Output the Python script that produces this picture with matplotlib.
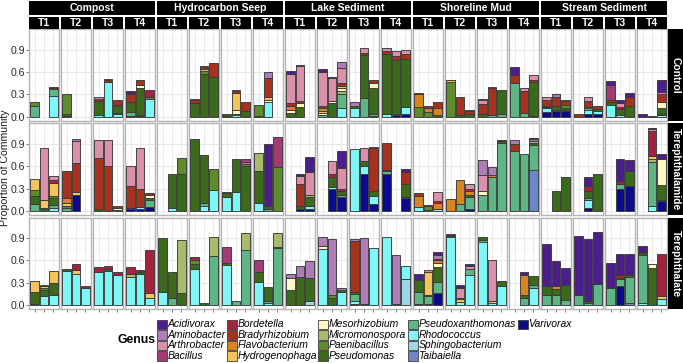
import matplotlib
matplotlib.use("Agg")
import matplotlib.pyplot as plt
from matplotlib.patches import Rectangle

plt.rcParams['font.family'] = ['Liberation Sans', 'DejaVu Sans']

# genus names, short codes and fill colours (legend order)
genera = ['Acidivorax', 'Aminobacter', 'Arthrobacter', 'Bacillus',
          'Bordetella', 'Bradyrhizobium', 'Flavobacterium', 'Hydrogenophaga',
          'Mesorhizobium', 'Micromonospora', 'Paenibacillus', 'Pseudomonas',
          'Pseudoxanthomonas', 'Rhodococcus', 'Sphingobacterium', 'Taibaiella',
          'Varivorax']
codes = ['Ac', 'Am', 'Ar', 'Ba', 'Bo', 'Br', 'Fl', 'Hy', 'Me', 'Mi', 'Pa',
         'Ps', 'Px', 'Rh', 'Sp', 'Ta', 'Va']
colors = ['#4B1D8F', '#B07CB8', '#DC8FAA', '#A43B72', '#A3233F', '#A4321F',
          '#DA8420', '#F4C35A', '#FFF7C6', '#A8BA6C', '#5E8B2C', '#3B6B1A',
          '#5FB685', '#80F7F7', '#9FD6E6', '#6E86C6', '#0B0B8B']

sites = ['Compost', 'Hydrocarbon Seep', 'Lake Sediment', 'Shoreline Mud', 'Stream Sediment']
times = ['T1', 'T2', 'T3', 'T4']
treatments = ['Control', 'Terephthalamide', 'Terephthalate']

# each panel = 3 replicate bars, each bar = {genus code: proportion}
control = [
    # Compost
    [{'Px': .15, 'Pa': .05}, {}, {'Rh': .28, 'Px': .09, 'Fl': .01, 'Br': .02}],
    [{'Px': .01, 'Ps': .02, 'Pa': .27}, {}, {}],
    [{'Rh': .02, 'Ps': .19, 'Br': .03, 'Ar': .02}, {'Rh': .46, 'Ps': .01, 'Br': .03, 'Ar': .01},
     {'Px': .02, 'Rh': .03, 'Ps': .09, 'Me': .02, 'Br': .07}],
    [{'Va': .01, 'Px': .05, 'Ps': .14, 'Br': .1, 'Ar': .02, 'Ac': .03},
     {'Va': .01, 'Rh': .01, 'Ps': .36, 'Me': .04, 'Br': .07}, {'Rh': .24, 'Pa': .02, 'Bo': .1}],
    # Hydrocarbon Seep
    [{}, {}, {}],
    [{'Ps': .19, 'Br': .03, 'Ar': .02}, {'Ps': .58, 'Pa': .03, 'Hy': .03, 'Br': .03, 'Ar': .01},
     {'Ps': .53, 'Br': .19}],
    [{'Rh': .01, 'Ps': .03}, {'Rh': .02, 'Px': .02, 'Me': .05, 'Hy': .23, 'Br': .03, 'Ar': .01},
     {'Ps': .07, 'Br': .13}],
    [{'Ps': .01, 'Pa': .15}, {'Rh': .2, 'Me': .02, 'Hy': .04, 'Br': .26, 'Am': .08}, {}],
    # Lake Sediment
    [{'Ps': .05, 'Me': .04, 'Fl': .05, 'Br': .04, 'Ar': .4, 'Ac': .04},
     {'Ps': .13, 'Me': .05, 'Br': .03, 'Ar': .47, 'Ac': .02}, {}],
    [{'Px': .02, 'Me': .03, 'Hy': .03, 'Fl': .04, 'Br': .03, 'Ar': .45, 'Ac': .04},
     {'Ps': .18, 'Me': .03, 'Ar': .31, 'Ac': .01},
     {'Rh': .11, 'Px': .19, 'Mi': .05, 'Me': .03, 'Hy': .03, 'Br': .04, 'Ar': .21, 'Am': .07}],
    [{'Rh': .12, 'Ps': .02, 'Am': .06}, {'Px': .25, 'Ps': .58, 'Br': .03, 'Ar': .06},
     {'Rh': .01, 'Px': .02, 'Ps': .36, 'Me': .06, 'Br': .05}],
    [{'Rh': .04, 'Ps': .8, 'Br': .05, 'Ar': .03}, {'Va': .02, 'Rh': .01, 'Ps': .73, 'Br': .06, 'Ar': .06},
     {'Va': .03, 'Rh': .1, 'Ps': .65, 'Br': .06, 'Ar': .06}],
    # Shoreline Mud
    [{'Pa': .13, 'Fl': .17, 'Br': .02}, {'Pa': .06, 'Fl': .06, 'Br': .02}, {'Ps': .02, 'Fl': .1, 'Br': .08}],
    [{'Pa': .47, 'Hy': .02, 'Br': .01}, {'Ps': .02, 'Br': .24}, {'Ps': .03, 'Br': .04, 'Ar': .02}],
    [{'Ps': .03, 'Br': .14, 'Ar': .05, 'Am': .02}, {'Px': .02, 'Br': .36, 'Ar': .02}, {'Px': .03, 'Ps': .33}],
    [{'Px': .45, 'Br': .11, 'Ac': .11}, {'Px': .05, 'Br': .3, 'Ar': .03},
     {'Px': .01, 'Ps': .46, 'Br': .03, 'Ar': .06}],
    # Stream Sediment
    [{'Va': .06, 'Rh': .05, 'Px': .02, 'Ps': .01, 'Br': .09, 'Ar': .03},
     {'Va': .07, 'Rh': .02, 'Ps': .06, 'Br': .12, 'Am': .03, 'Ac': .01},
     {'Va': .07, 'Px': .02, 'Ps': .02, 'Pa': .05, 'Br': .05, 'Ar': .01}],
    [{'Br': .03}, {'Va': .04, 'Rh': .05, 'Px': .02, 'Me': .02, 'Br': .08, 'Ar': .05},
     {'Va': .04, 'Rh': .04, 'Ps': .02, 'Br': .04}],
    [{'Rh': .16, 'Ps': .04, 'Br': .02, 'Ba': .21, 'Ac': .05},
     {'Rh': .02, 'Ps': .08, 'Bo': .03, 'Ar': .05, 'Ac': .05}, {'Ps': .14, 'Br': .13, 'Ac': .05}],
    [{'Ac': .03}, {'Ps': .01}, {'Rh': .02, 'Px': .02, 'Ps': .08, 'Me': .08, 'Br': .1, 'Ar': .03, 'Ac': .17}],
]

terephthalamide = [
    # Compost
    [{'Px': .09, 'Ps': .11, 'Pa': .08, 'Hy': .15}, {'Ps': .02, 'Me': .02, 'Hy': .1, 'Ar': .71},
     {'Rh': .04, 'Px': .04, 'Ps': .09, 'Pa': .03, 'Hy': .18, 'Bo': .03, 'Ar': .06}],
    [{'Px': .04, 'Pa': .03, 'Hy': .04, 'Fl': .06, 'Br': .37},
     {'Va': .21, 'Hy': .04, 'Br': .39, 'Ar': .3, 'Am': .03}, {}],
    [{'Ps': .02, 'Br': .69, 'Ar': .25}, {'Br': .61, 'Ar': .34}, {'Ps': .01, 'Me': .03, 'Br': .02}],
    [{'Va': .03, 'Ps': .01, 'Br': .29, 'Ar': .27}, {'Va': .03, 'Rh': .02, 'Br': .25, 'Ar': .55},
     {'Va': .05, 'Px': .1, 'Ps': .02, 'Me': .04, 'Br': .03}],
    # Hydrocarbon Seep
    [{}, {'Rh': .04, 'Ps': .46}, {'Ps': .5, 'Pa': .21}],
    [{'Ps': .97}, {'Rh': .07, 'Px': .03, 'Ps': .65}, {'Rh': .28, 'Pa': .29}],
    [{'Rh': .19, 'Ps': .05, 'Pa': .02}, {'Rh': .25, 'Ps': .45}, {'Ps': .61, 'Pa': .02, 'Fl': .03, 'Ba': .04}],
    [{'Rh': .1, 'Ps': .44, 'Mi': .24}, {'Px': .03, 'Ps': .03, 'Ac': .84}, {'Pa': .59, 'Ba': .41}],
    # Lake Sediment
    [{}, {'Va': .03, 'Ps': .04, 'Br': .29, 'Ar': .11, 'Ac': .02},
     {'Va': .03, 'Rh': .03, 'Ps': .12, 'Mi': .03, 'Ar': .31, 'Ac': .21}],
    [{}, {'Va': .29, 'Rh': .03, 'Ps': .14, 'Bo': .04, 'Ar': .17},
     {'Va': .18, 'Px': .04, 'Ps': .05, 'Bo': .03, 'Ar': .28, 'Ac': .22}],
    [{'Rh': .83}, {'Va': .5, 'Rh': .1, 'Ps': .07, 'Ar': .17},
     {'Va': .09, 'Rh': .11, 'Ps': .07, 'Br': .57, 'Ar': .02}],
    [{'Va': .5, 'Px': .04, 'Ps': .01, 'Br': .37}, {}, {'Va': .17, 'Rh': .02, 'Ps': .17, 'Br': .16, 'Ac': .05}],
    # Shoreline Mud
    [{'Rh': .05, 'Fl': .15, 'Br': .04}, {'Ps': .01, 'Pa': .05, 'Br': .02},
     {'Rh': .02, 'Fl': .09, 'Br': .02, 'Ar': .12}],
    [{'Fl': .16}, {'Px': .09, 'Fl': .32}, {'Va': .02, 'Px': .17, 'Ps': .02, 'Fl': .06, 'Br': .03, 'Ar': .06}],
    [{'Px': .21, 'Me': .06, 'Ar': .21, 'Am': .21}, {'Px': .46, 'Fl': .02, 'Am': .11},
     {'Px': .92, 'Ps': .02, 'Br': .02}],
    [{'Px': .8, 'Br': .1, 'Am': .06}, {'Px': .76},
     {'Ta': .55, 'Px': .33, 'Ps': .04, 'Mi': .02, 'Am': .03, 'Ac': .01}],
    # Stream Sediment
    [{}, {'Ps': .27}, {'Ps': .45}],
    [{}, {'Va': .04, 'Rh': .11, 'Px': .02, 'Ps': .1, 'Bo': .06, 'Ac': .12}, {'Ps': .49}],
    [{}, {'Va': .29, 'Px': .07, 'Bo': .04, 'Ac': .3}, {'Va': .34, 'Ps': .2, 'Ac': .14}],
    [{}, {'Rh': .06, 'Px': .6, 'Mi': .04, 'Hy': .04, 'Bo': .34, 'Ar': .02, 'Ac': .02},
     {'Va': .13, 'Rh': .02, 'Ps': .2, 'Me': .35, 'Ac': .06}],
]

terephthalate = [
    # Compost
    [{'Rh': .02, 'Ps': .15, 'Hy': .16}, {'Rh': .12, 'Ps': .08, 'Pa': .03, 'Hy': .02, 'Bo': .02},
     {'Rh': .14, 'Ps': .16, 'Hy': .16}],
    [{'Rh': .46, 'Ps': .02}, {'Rh': .42, 'Hy': .05, 'Bo': .08}, {'Rh': .23, 'Bo': .02}],
    [{'Rh': .44, 'Bo': .07}, {'Rh': .46, 'Ps': .02, 'Bo': .05}, {'Rh': .41, 'Bo': .04}],
    [{'Rh': .38, 'Mi': .04, 'Bo': .09}, {'Rh': .42, 'Ps': .03, 'Bo': .02}, {'Rh': .1, 'Hy': .06, 'Bo': .58}],
    # Hydrocarbon Seep
    [{'Rh': .18, 'Ps': .72}, {'Px': .1, 'Ps': .34}, {'Ps': .16, 'Mi': .72}],
    [{'Rh': .48, 'Ps': .07, 'Pa': .05, 'Bo': .05}, {'Ps': .03}, {'Px': .66, 'Mi': .25}],
    [{'Rh': .54, 'Ps': .03, 'Ba': .21}, {'Px': .06}, {'Px': .74, 'Mi': .23}],
    [{'Rh': .31, 'Ps': .14, 'Ba': .16}, {'Rh': .03, 'Px': .02, 'Ps': .19}, {'Px': .77, 'Ps': .01, 'Mi': .19}],
    # Lake Sediment
    [{'Ps': .2, 'Me': .17, 'Am': .05}, {'Ps': .38, 'Am': .15}, {'Sp': .06, 'Ps': .31, 'Am': .22}],
    [{'Rh': .76, 'Me': .03, 'Am': .12}, {'Ps': .1, 'Pa': .03, 'Am': .76}, {'Rh': .17, 'Ps': .03, 'Am': .03}],
    [{'Va': .02, 'Rh': .03, 'Px': .1, 'Ps': .02, 'Br': .69, 'Am': .03}, {'Ps': .01, 'Am': .89}, {'Rh': .77}],
    [{'Rh': .92}, {'Ps': .02, 'Am': .65}, {'Sp': .35, 'Rh': .17}],
    # Shoreline Mud
    [{'Rh': .02, 'Px': .16, 'Ps': .16, 'Ac': .08},
     {'Rh': .02, 'Px': .1, 'Ps': .01, 'Hy': .31, 'Br': .01, 'Ar': .02},
     {'Va': .16, 'Px': .15, 'Ps': .2, 'Me': .05, 'Fl': .04, 'Br': .02, 'Am': .05, 'Ac': .05}],
    [{'Rh': .91, 'Px': .02, 'Ps': .01, 'Ac': .02}, {'Rh': .04, 'Hy': .04, 'Fl': .02, 'Ar': .13, 'Ac': .04},
     {'Rh': .4, 'Px': .08, 'Ar': .04, 'Ac': .03}],
    [{'Rh': .85, 'Px': .03, 'Ps': .03}, {'Rh': .03, 'Hy': .02, 'Ar': .56}, {'Rh': .25, 'Ps': .07}],
    [{}, {'Px': .1, 'Ps': .03, 'Fl': .27, 'Ac': .04}, {'Rh': .23, 'Px': .04, 'Ps': .12}],
    # Stream Sediment
    [{'Px': .13, 'Ps': .12, 'Ac': .57}, {'Px': .13, 'Ps': .08, 'Fl': .04, 'Ac': .34},
     {'Px': .07, 'Ps': .2, 'Ac': .23}],
    [{'Px': .14, 'Ac': .79}, {'Px': .03, 'Ps': .02, 'Ac': .84}, {'Px': .29, 'Ac': .7}],
    [{'Px': .23, 'Ac': .33}, {'Va': .26, 'Px': .09, 'Ps': .02, 'Br': .04, 'Ac': .28},
     {'Ta': .03, 'Px': .35, 'Ps': .02, 'Ac': .29}],
    [{'Rh': .03, 'Px': .64, 'Ps': .03, 'Pa': .02, 'Ac': .07}, {'Ps': .5, 'Me': .05},
     {'Rh': .08, 'Hy': .04, 'Bo': .57}],
]

rows = [control, terephthalamide, terephthalate]

W, H = 683, 363
fig = plt.figure(figsize=(W / 100, H / 100), dpi=100)


def box(x0, y0, x1, y1):
    # pixel box (top-left origin) -> figure fraction rect
    return [x0 / W, 1 - y1 / H, (x1 - x0) / W, (y1 - y0) / H]


def strip(x0, y0, x1, y1, label, size, rot=0):
    fig.add_artist(Rectangle((x0 / W, 1 - y1 / H), (x1 - x0) / W, (y1 - y0) / H,
                             transform=fig.transFigure, facecolor='black', edgecolor='none'))
    fig.text((x0 + x1) / 2 / W, 1 - (y0 + y1) / 2 / H, label, color='white',
             fontsize=size, fontweight='bold', ha='center', va='center', rotation=rot)


pw, pstep = 29.4, 32.0
ph, rstep = 91.5, 94.2
left0, top0 = 29.3, 29.3
color_of = dict(zip(codes, colors))

for r, panels in enumerate(rows):
    top = top0 + r * rstep
    for i, panel in enumerate(panels):
        left = left0 + i * pstep
        ax = fig.add_axes(box(left, top, left + pw, top + ph))
        for code in reversed(codes):
            xs = [j + 1 for j, bar in enumerate(panel) if bar.get(code, 0) > 0]
            if not xs:
                continue
            hs = [panel[x - 1][code] for x in xs]
            bots = [sum(panel[x - 1].get(c, 0) for c in codes[codes.index(code) + 1:]) for x in xs]
            ax.bar(xs, hs, bottom=bots, width=0.95, color=color_of[code],
                   edgecolor='#3a3a3a', linewidth=0.65, zorder=3)
        ax.set_xlim(0.4, 3.6)
        ax.set_ylim(-0.056, 1.176)
        ax.set_xticks([1, 2, 3])
        ax.set_yticks([0, 0.3, 0.6, 0.9])
        ax.set_yticks([0.15, 0.45, 0.75, 1.05], minor=True)
        ax.grid(which='major', color='#E6E6E6', linewidth=0.6, zorder=0)
        ax.grid(which='minor', axis='y', color='#F0F0F0', linewidth=0.35, zorder=0)
        ax.set_axisbelow(True)
        for sp in ax.spines.values():
            sp.set_color('#B5B5B5')
            sp.set_linewidth(1.0)
        ax.tick_params(which='minor', length=0)
        ax.tick_params(axis='x', labelbottom=False,
                       length=2 if r == 2 else 0, width=0.5, color='#444444')
        if i == 0:
            ax.tick_params(axis='y', length=2, width=0.5, color='#444444', pad=1,
                           labelsize=7.6, labelcolor='#2a2a2a')
            ax.set_yticklabels(['0.0', '0.3', '0.6', '0.9'])
        else:
            ax.tick_params(axis='y', length=0, labelleft=False)

    strip(668, top, 683, top + ph, treatments[r], 7.4, rot=-90)

# top strips: site and time
for s, site in enumerate(sites):
    x0 = left0 + 4 * s * pstep
    x1 = left0 + (4 * s + 3) * pstep + pw
    strip(x0, 0.5, x1, 15.3, site, 7.5)
    for t, tm in enumerate(times):
        xl = left0 + (4 * s + t) * pstep
        strip(xl, 17.3, xl + pw, 28.6, tm, 7.5)

fig.text(5.5 / W, 1 - 168 / H, 'Proportion of Community', rotation=90,
         ha='center', va='center', fontsize=7.6, color='#1a1a1a')

# legend
fig.text(118 / W, 1 - 340 / H, 'Genus', fontsize=8.8, fontweight='bold',
         ha='left', va='center')
col_x = [157, 227, 318, 408, 518]
for k, (g, c) in enumerate(zip(genera, colors)):
    cx = col_x[k // 4]
    cy = 324.3 + (k % 4) * 10.6
    fig.add_artist(Rectangle((cx / W, 1 - (cy + 4.8) / H), 9.6 / W, 9.6 / H,
                             transform=fig.transFigure, facecolor=c,
                             edgecolor='#3d3d3d', linewidth=0.6))
    fig.text((cx + 10.5) / W, 1 - cy / H, g, fontsize=7.45, style='italic',
             ha='left', va='center')

fig.savefig('out.png', dpi=100)
